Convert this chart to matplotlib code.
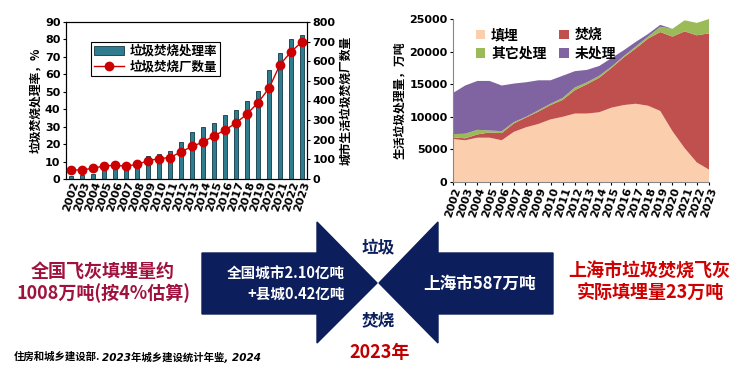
import matplotlib
matplotlib.use("Agg")
import matplotlib.pyplot as plt
import numpy as np
from matplotlib.patches import Polygon

plt.rcParams['font.family'] = ['Noto Sans CJK SC', 'DejaVu Sans']
plt.rcParams['font.weight'] = 'bold'

years = list(range(2002, 2024))
year_labels = [str(y) for y in years]

# Left chart: incineration rate (%) and number of incineration plants
incin_rate = [2.0, 2.5, 3.0, 5.0, 6.0, 6.5, 7.0, 13.0, 14.5, 16.0, 21.0, 27.0,
              30.0, 32.0, 36.5, 39.5, 45.0, 50.5, 62.5, 72.5, 80.0, 82.5]
plant_count = [45, 47, 54, 67, 69, 66, 74, 93, 104, 109, 138, 166,
               188, 220, 249, 286, 331, 389, 463, 583, 648, 700]

# Right chart: MSW treatment (10k tonnes)
landfill = [6600, 6400, 6800, 6800, 6400, 7700, 8400, 8900, 9600, 10000, 10500, 10500,
            10700, 11400, 11800, 12000, 11700, 10900, 7800, 5200, 3000, 1900]
incineration = [250, 300, 500, 800, 1100, 1300, 1500, 1900, 2200, 2600, 3600, 4500,
                5300, 6100, 7300, 8500, 10300, 12100, 14500, 17900, 19500, 20900]
other = [500, 700, 700, 300, 300, 200, 100, 200, 200, 300, 400, 300,
         300, 200, 200, 300, 300, 800, 1200, 1700, 1900, 2200]
untreated = [6300, 7400, 7500, 7600, 7000, 5900, 5300, 4600, 3600, 3400, 2500, 1900,
             1500, 1300, 900, 700, 400, 300, 0, 0, 0, 0]

fig = plt.figure(figsize=(7.46, 3.80), dpi=100)

TL = 8  # tick label size

# ---------- Left chart ----------
ax1 = fig.add_axes([66/746, 1-179/380, 241/746, 157/380])
x = np.arange(len(years))
bars = ax1.bar(x, incin_rate, width=0.42, color='#2E7C8E', edgecolor='#123845',
               linewidth=0.6, zorder=2)
ax1.set_ylim(0, 90)
ax1.set_yticks(range(0, 91, 10))
ax1.set_xlim(-0.45, 21.45)
ax1.set_xticks(x)
ax1.set_xticklabels(year_labels, rotation=72, fontsize=TL, fontweight='bold',
                    family='DejaVu Sans')
ax1.tick_params(axis='x', length=0, pad=1)
ax1.tick_params(axis='y', labelsize=TL, length=2, pad=2)
for lab in ax1.get_yticklabels():
    lab.set_fontweight('bold'); lab.set_family('DejaVu Sans')
ax1.set_ylabel('垃圾焚烧处理率，%', fontsize=8.5, fontweight='bold', labelpad=2)

ax1b = ax1.twinx()
line, = ax1b.plot(x, plant_count, color='#CC0000', marker='o', markersize=6,
                  linewidth=1.0, zorder=3)
ax1b.set_ylim(0, 800)
ax1b.set_yticks(range(0, 801, 100))
ax1b.tick_params(axis='y', labelsize=TL, length=2, pad=2)
for lab in ax1b.get_yticklabels():
    lab.set_fontweight('bold'); lab.set_family('DejaVu Sans')
ax1b.set_ylabel('城市生活垃圾焚烧厂数量', fontsize=8.5, fontweight='bold', labelpad=3)
for ax in (ax1, ax1b):
    for s in ax.spines.values():
        s.set_linewidth(0.8)

leg1 = ax1b.legend([bars, line], ['垃圾焚烧处理率', '垃圾焚烧厂数量'],
                   loc='upper left', bbox_to_anchor=(0.078, 0.915), fontsize=9,
                   frameon=True, fancybox=False, edgecolor='black',
                   handlelength=2.4, borderpad=0.25, labelspacing=0.2,
                   handletextpad=0.4, framealpha=1)
leg1.get_frame().set_linewidth(0.8)

# ---------- Right chart ----------
ax2 = fig.add_axes([453/746, 1-182/380, 256/746, 163/380])
polys = ax2.stackplot(years, landfill, incineration, other, untreated,
                      colors=['#FBCFAE', '#C0504D', '#9BBB59', '#8064A2'],
                      linewidth=0)
ax2.set_xlim(2002, 2023)
ax2.set_ylim(0, 25000)
ax2.set_yticks(range(0, 25001, 5000))
ax2.set_xticks(years)
ax2.set_xticklabels(year_labels, rotation=72, fontsize=TL, fontweight='bold',
                    family='DejaVu Sans')
ax2.tick_params(axis='x', length=2, pad=1)
ax2.tick_params(axis='y', labelsize=TL, length=2, pad=2)
for lab in ax2.get_yticklabels():
    lab.set_fontweight('bold'); lab.set_family('DejaVu Sans')
ax2.spines['top'].set_visible(False)
ax2.spines['right'].set_visible(False)
ax2.spines['left'].set_color('#888888')
ax2.spines['bottom'].set_color('#888888')
ax2.set_ylabel('生活垃圾处理量，万吨', fontsize=8.5, fontweight='bold', labelpad=2)
ax2.legend([polys[0], polys[2], polys[1], polys[3]],
           ['填埋', '其它处理', '焚烧', '未处理'],
           loc='upper left', bbox_to_anchor=(0.04, 1.02), ncol=2, fontsize=10,
           frameon=False, handlelength=0.7, handleheight=0.7, columnspacing=0.9,
           labelspacing=0.35, handletextpad=0.4)

# ---------- Bottom diagram ----------
ov = fig.add_axes([0, 0, 1, 1])
ov.set_xlim(0, 746)
ov.set_ylim(380, 0)
ov.axis('off')
navy = '#0C1E5B'
left_arrow = [(202, 253), (317, 253), (317, 222), (377, 283), (317, 343), (317, 314), (202, 314)]
right_arrow = [(553, 253), (438, 253), (438, 222), (379, 283), (438, 343), (438, 314), (553, 314)]
ov.add_patch(Polygon(left_arrow, closed=True, color=navy))
ov.add_patch(Polygon(right_arrow, closed=True, color=navy))

ov.text(345, 274, '全国城市2.10亿吨', color='white', fontsize=10.5, fontweight='bold',
        ha='right', va='center')
ov.text(345, 294, '+县城0.42亿吨', color='white', fontsize=10.5, fontweight='bold',
        ha='right', va='center')
ov.text(480, 284, '上海市587万吨', color='white', fontsize=12, fontweight='bold',
        ha='center', va='center')
ov.text(378, 248, '垃圾', color=navy, fontsize=12, fontweight='bold', ha='center', va='center')
ov.text(378, 320, '焚烧', color=navy, fontsize=12, fontweight='bold', ha='center', va='center')
ov.text(380, 352, '2023年', color='#C00000', fontsize=13, fontweight='bold',
        ha='center', va='center')

ov.text(103, 271, '全国飞灰填埋量约', color='#A0123E', fontsize=13, fontweight='bold',
        ha='center', va='center')
ov.text(103, 293, '1008万吨(按4%估算)', color='#A0123E', fontsize=13, fontweight='bold',
        ha='center', va='center')
ov.text(649, 271, '上海市垃圾焚烧飞灰', color='#D00000', fontsize=13, fontweight='bold',
        ha='center', va='center')
ov.text(650, 293, '实际填埋量23万吨', color='#D00000', fontsize=13, fontweight='bold',
        ha='center', va='center')

t1 = ov.text(14, 357, '住房和城乡建设部.', color='black', fontsize=7.5, fontweight='bold',
             ha='left', va='center')
fig.canvas.draw()
bb = t1.get_window_extent()
x_end = bb.x1
ov.text(x_end + 2, 357, '2023年城乡建设统计年鉴, 2024', color='black', fontsize=7.5,
        fontweight='bold', style='italic', ha='left', va='center',
        family=['DejaVu Sans', 'Noto Sans CJK SC'])

fig.savefig('out.png', dpi=100)
